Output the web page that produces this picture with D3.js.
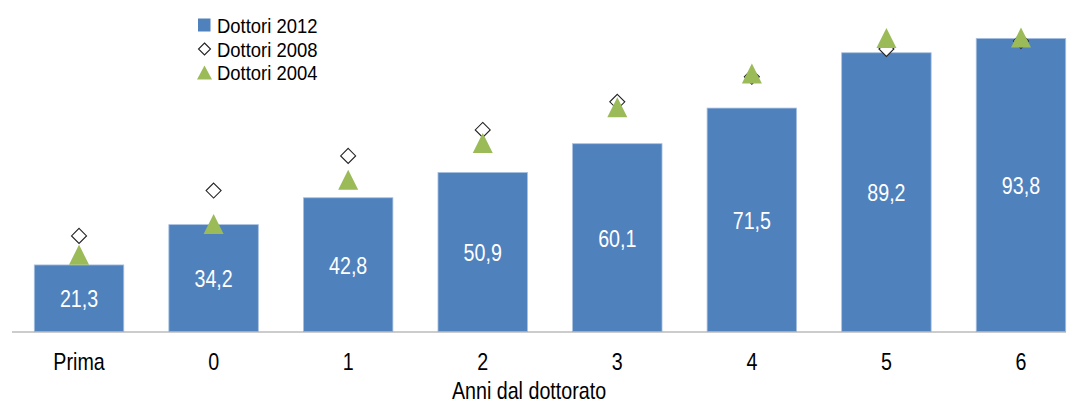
<!DOCTYPE html>
<html>
<head>
<meta charset="utf-8">
<script src="https://cdn.jsdelivr.net/npm/d3@7"></script>
<style>
  html, body { margin: 0; padding: 0; background: #fff; }
  svg { display: block; }
  text { font-family: "Liberation Sans", Arial, sans-serif; }
</style>
</head>
<body>
<svg id="chart" width="1074" height="403"></svg>
<script>
// ---- data ----
const categories = ["Prima", "0", "1", "2", "3", "4", "5", "6"];
const dottori2012 = [21.3, 34.2, 42.8, 50.9, 60.1, 71.5, 89.2, 93.8];
const dottori2008 = [30.6, 45.1, 56.2, 64.5, 73.5, 81.5, 90.4, 93.0];
const dottori2004 = [24.6, 34.4, 48.6, 60.3, 71.8, 82.6, 93.9, 94.1];
const seriesNames = ["Dottori 2012", "Dottori 2008", "Dottori 2004"];
const xAxisTitle = "Anni dal dottorato";

// ---- layout ----
const svg = d3.select("#chart");
const blue = "#4F81BD", green = "#9BBB59";
const SX = 0.82; // emulate a narrow font

const x = d3.scaleBand().domain(categories).range([11.75, 1088.25]).paddingInner(0.335).paddingOuter(0.1675);
const y = d3.scaleLinear().domain([0, 100]).range([331.5, 19]);

const it = d3.formatLocale({decimal: ",", thousands: ".", grouping: [3], currency: ["€", ""]});
const fmt = it.format(".1f");

const rows = categories.map((c, i) => ({c, v12: dottori2012[i], v08: dottori2008[i], v04: dottori2004[i]}));

// bars
svg.append("g").selectAll("rect").data(rows).join("rect")
  .attr("x", d => x(d.c))
  .attr("y", d => y(d.v12))
  .attr("width", x.bandwidth())
  .attr("height", d => y(0) - y(d.v12))
  .attr("fill", blue)
  .attr("stroke", "#a9c1e0")
  .attr("stroke-width", 0.8);

// x axis
const xAxis = d3.axisBottom(x).tickSize(0).tickPadding(0);
const gx = svg.append("g").attr("transform", `translate(0,${y(0)})`).call(xAxis);
gx.select(".domain").attr("d", `M12,0.5H1066`).attr("stroke", "#9a9a9a").attr("stroke-width", 1.2);
gx.selectAll(".tick text")
  .attr("y", 0).attr("dy", 0)
  .attr("transform", `translate(0,38) scale(${SX},1)`)
  .style("font-size", "24px")
  .style("font-family", "'Liberation Sans',Arial,sans-serif")
  .attr("fill", "#000");

// value labels
svg.append("g").selectAll("text").data(rows).join("text")
  .attr("transform", d => `translate(${x(d.c) + x.bandwidth() / 2},${(y(d.v12) + y(0)) / 2 + 9}) scale(${SX},1)`)
  .attr("text-anchor", "middle")
  .attr("fill", "#fff")
  .style("font-size", "24px")
  .text(d => fmt(d.v12));

// diamonds (2008)
const diamond = (s) => `M0,${-s}L${s},0L0,${s}L${-s},0Z`;
svg.append("g").selectAll("path").data(rows).join("path")
  .attr("transform", d => `translate(${x(d.c) + x.bandwidth() / 2},${y(d.v08)})`)
  .attr("d", diamond(7.5))
  .attr("fill", "#fff")
  .attr("stroke", "#222")
  .attr("stroke-width", 1.1);

// triangles (2004)
const tri = (w, h) => `M0,${-h/2}L${w/2},${h/2}L${-w/2},${h/2}Z`;
svg.append("g").selectAll("path").data(rows).join("path")
  .attr("transform", d => `translate(${x(d.c) + x.bandwidth() / 2},${y(d.v04)})`)
  .attr("d", tri(20, 20))
  .attr("fill", green);

// x axis title
svg.append("text")
  .attr("transform", `translate(529,399) scale(${SX},1)`)
  .attr("text-anchor", "middle")
  .style("font-size", "24px")
  .attr("fill", "#000")
  .text(xAxisTitle);

// legend
const lg = svg.append("g");
const lyBase = [32.5, 56.5, 80];
seriesNames.forEach((name, i) => {
  const cy = lyBase[i] - 7.5;
  if (i === 0) {
    lg.append("rect").attr("x", 198).attr("y", cy - 6.5).attr("width", 12.5).attr("height", 13).attr("fill", blue);
  } else if (i === 1) {
    lg.append("path").attr("transform", `translate(204.5,${cy})`).attr("d", diamond(6)).attr("fill", "#fff").attr("stroke", "#222").attr("stroke-width", 1.1);
  } else {
    lg.append("path").attr("transform", `translate(204.5,${cy})`).attr("d", tri(15, 14)).attr("fill", green);
  }
  lg.append("text").attr("transform", `translate(217,${lyBase[i]}) scale(0.9,1)`).style("font-size", "20.5px").attr("fill", "#000").text(name);
});
</script>
</body>
</html>
